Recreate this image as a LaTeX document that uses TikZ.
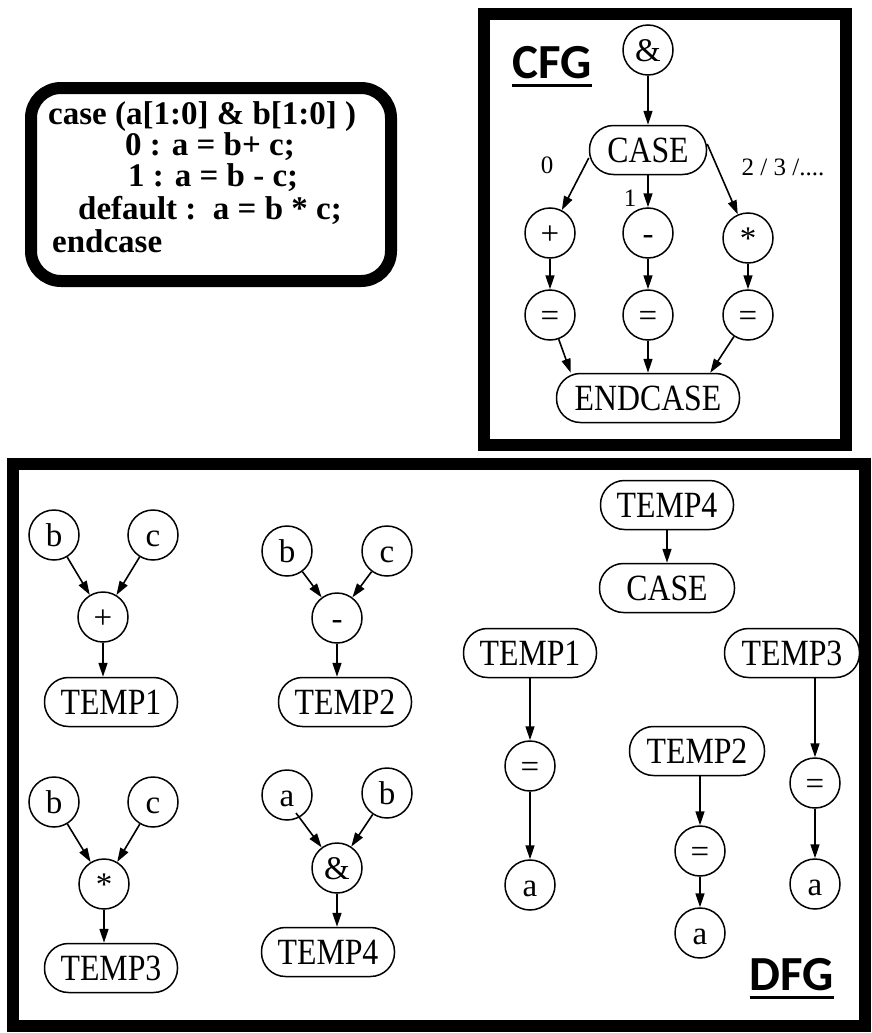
\documentclass[tikz,border=0pt]{standalone}
\usepackage{fontspec}
\setmainfont{Liberation Serif}
\newfontfamily\lblfont{Carlito}
\newfontfamily\nodefont{Liberation Serif}[FakeStretch=0.86]
\usetikzlibrary{arrows.meta}
\tikzset{
  cnode/.style={circle,draw,line width=1.5pt,minimum size=50pt,inner sep=0pt,text height=23pt,text depth=0pt,font=\fontsize{33}{33}\selectfont},
  snode/.style={draw,line width=1.5pt,rounded corners=24pt,minimum height=49pt,inner sep=0pt,font=\fontsize{37}{37}\nodefont\selectfont},
  edge/.style={line width=1.6pt,-{Triangle[length=14pt,width=9pt]}},
  frame/.style={line width=12pt},
  codeline/.style={anchor=base west,inner sep=0pt,font=\fontsize{33}{33}\selectfont\bfseries},
  elabel/.style={font=\fontsize{25}{25}\selectfont,inner sep=0pt},
  ttl/.style={font=\fontsize{49}{49}\selectfont\lblfont\bfseries,inner sep=0pt,anchor=base},
  uline/.style={line width=3pt}
}
\begin{document}
\begin{tikzpicture}[x=1pt,y=-1pt]
\useasboundingbox (0,0) rectangle (871,1033);
% code box
\draw[frame,rounded corners=30pt] (31,88) rectangle (391,281);
\node[codeline] (l1) at (48,124) {case (a[1:0] \& b[1:0] )};
\node[codeline] (l2) at (125,155) {0 : a = b+ c;};
\node[codeline] (l3) at (128,186) {1 : a = b - c;};
\node[codeline] (l4) at (78,219) {default :\ \ a = b * c;};
\node[codeline] (l5) at (52,252) {endcase};
% CFG box
\draw[frame] (484,14) rectangle (846,445);
\node[ttl] (cfgt) at (552,78) {CFG};
\draw[uline] ([yshift=-7pt]cfgt.south west) -- ([yshift=-7pt]cfgt.south east);
\node[cnode] (amp) at (648,50) {\&};
\node[snode,minimum width=117pt] (case) at (648,150) {CASE};
\node[cnode] (plus) at (550,233) {+};
\node[cnode] (minus) at (648,233) {-};
\node[cnode] (mul) at (748,238) {*};
\node[cnode] (eqa) at (550,315) {=};
\node[cnode] (eqb) at (648,315) {=};
\node[cnode] (eqc) at (748,315) {=};
\node[snode,minimum width=183pt] (endc) at (648,398) {ENDCASE};
\draw[edge] (amp) -- (case);
\draw[edge] ([yshift=-8pt]case.west) -- (plus);
\draw[edge] (case) -- (minus);
\draw[edge] ([yshift=6pt]case.east) -- (mul);
\draw[edge] (plus) -- (eqa);
\draw[edge] (minus) -- (eqb);
\draw[edge] (mul) -- (eqc);
\draw[edge] (eqa) -- ([xshift=15pt]endc.north west);
\draw[edge] (eqb) -- (endc);
\draw[edge] (eqc) -- ([xshift=-30pt]endc.north east);
\node[elabel] (lab0) at (547,165) {0};
\node[elabel] (lab1) at (630,198) {1};
\node[elabel] (lab2) at (783,167) {2 / 3 /....};
% DFG box
\draw[frame] (13,464) rectangle (865,1026);
\node[ttl] (dfgt) at (792,990) {DFG};
\draw[uline] ([yshift=-7pt]dfgt.south west) -- ([yshift=-7pt]dfgt.south east);
% group 1
\node[cnode] (b1) at (54,535) {b};
\node[cnode] (c1) at (153,535) {c};
\node[cnode] (p1) at (103,617) {+};
\node[snode,minimum width=133pt] (t1) at (111,702) {TEMP1};
\draw[edge] (b1) -- (p1);
\draw[edge] (c1) -- (p1);
\draw[edge] (p1) -- (p1 |- t1.north);
% group 2
\node[cnode] (b2) at (287,551) {b};
\node[cnode] (c2) at (387,551) {c};
\node[cnode] (m2) at (337,618) {-};
\node[snode,minimum width=133pt] (t2) at (345,702) {TEMP2};
\draw[edge] (b2) -- (m2);
\draw[edge] (c2) -- (m2);
\draw[edge] (m2) -- (m2 |- t2.north);
% group 3
\node[cnode] (b3) at (54,802) {b};
\node[cnode] (c3) at (153,802) {c};
\node[cnode] (s3) at (104,884) {*};
\node[snode,minimum width=133pt] (t3) at (111,968) {TEMP3};
\draw[edge] (b3) -- (s3);
\draw[edge] (c3) -- (s3);
\draw[edge] (s3) -- (s3 |- t3.north);
% group 4
\node[cnode] (a4) at (287,795) {a};
\node[cnode] (b4) at (387,793) {b};
\node[cnode] (n4) at (337,868) {\&};
\node[snode,minimum width=133pt] (t4) at (328,952) {TEMP4};
\draw[edge] ([xshift=9pt,yshift=-18pt]a4.center) -- (n4);
\draw[edge] (b4) -- (n4);
\draw[edge] (n4) -- (n4 |- t4.north);
% right part
\node[snode,minimum width=133pt] (tt4) at (667,505) {TEMP4};
\node[snode,minimum width=135pt] (dcase) at (667,588) {CASE};
\draw[edge] (tt4) -- (dcase);
\node[snode,minimum width=133pt] (tt1) at (530,653) {TEMP1};
\node[cnode] (e1) at (530,766) {=};
\node[cnode] (a1) at (530,885) {a};
\draw[edge] (tt1) -- (e1);
\draw[edge] (e1) -- (a1);
\node[snode,minimum width=135pt] (tt2) at (697,751) {TEMP2};
\node[cnode] (e2) at (700,851) {=};
\node[cnode] (a2) at (700,933) {a};
\draw[edge] (tt2.south -| e2) -- (e2);
\draw[edge] (e2) -- (a2);
\node[snode,minimum width=135pt] (tt3) at (792,653) {TEMP3};
\node[cnode] (e3) at (815,783) {=};
\node[cnode] (a3) at (815,884) {a};
\draw[edge] (tt3.south -| e3) -- (e3);
\draw[edge] (e3) -- (a3);
\end{tikzpicture}
\end{document}
